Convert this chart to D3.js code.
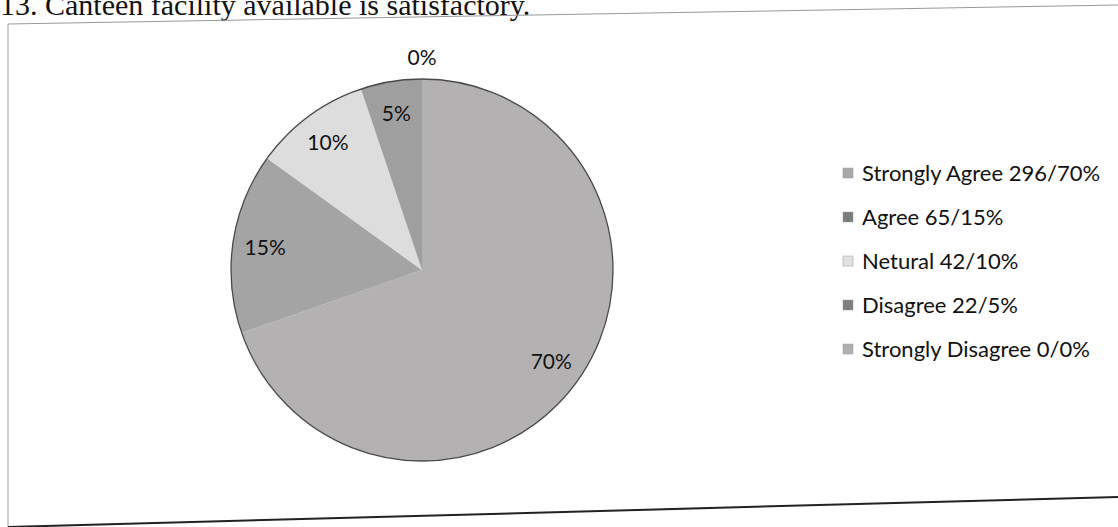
<!DOCTYPE html>
<html>
<head>
<meta charset="utf-8">
<script src="https://cdn.jsdelivr.net/npm/d3@7"></script>
<style>
  body { margin: 0; background: #fff; }
  svg { display: block; }
</style>
</head>
<body>
<div id="chart"></div>
<script>
let width = 1118, height = 527;

let categories = ['Strongly Agree', 'Agree', 'Netural', 'Disagree', 'Strongly Disagree'];
let counts = [296, 65, 42, 22, 0];
let percents = [70, 15, 10, 5, 0];
let sliceColors = ['#b3b1b1', '#a5a4a4', '#dedddd', '#a09f9f', '#b8b8b8'];
let legendColors = ['#a9a9a9', '#7c7c7c', '#e2e2e2', '#808080', '#b0b0b0'];

let cx = 422, cy = 270, r = 191;

let rows = categories.map(function(c, i) {
  return { name: c, count: counts[i], pct: percents[i], fill: sliceColors[i], key: legendColors[i] };
});

let svg = d3.select('#chart').append('svg')
  .attr('width', width).attr('height', height);

// title, partly cut off at the top of the scan
svg.append('text')
  .attr('x', 0).attr('y', 15)
  .style('font-family', '"Liberation Serif", "Times New Roman", serif')
  .style('font-size', '30px')
  .style('fill', '#111')
  .text('13. Canteen facility available is satisfactory.');

// chart frame (the page was photographed at a slight tilt)
svg.append('path')
  .attr('d', 'M8,24 L1118,5')
  .style('stroke', '#999').style('stroke-width', 1).style('fill', 'none');
svg.append('path')
  .attr('d', 'M8,24 L8,527')
  .style('stroke', '#999').style('stroke-width', 1).style('fill', 'none');
svg.append('path')
  .attr('d', 'M8,527 L1118,497')
  .style('stroke', '#222').style('stroke-width', 2).style('fill', 'none');

let pie = d3.pie()
  .value(function(d) { return d.count; })
  .sort(null);

let arc = d3.arc().innerRadius(0).outerRadius(r);
let labelArc = d3.arc().innerRadius(r * 0.83).outerRadius(r * 0.83);
let outerArc = d3.arc().innerRadius(r * 1.11).outerRadius(r * 1.11);

let g = svg.append('g').attr('transform', 'translate(' + cx + ',' + cy + ')');
let arcs = pie(rows);

g.selectAll('path.slice')
  .data(arcs)
  .enter().append('path')
  .attr('class', 'slice')
  .attr('d', arc)
  .style('fill', function(d) { return d.data.fill; })
  .style('stroke', 'none');

g.append('circle')
  .attr('r', r)
  .style('fill', 'none')
  .style('stroke', '#4a4a4a')
  .style('stroke-width', 1.3);

g.selectAll('text.lbl')
  .data(arcs)
  .enter().append('text')
  .attr('class', 'lbl')
  .attr('transform', function(d) {
    let p = d.data.count === 0 ? outerArc.centroid(d) : labelArc.centroid(d);
    return 'translate(' + p + ')';
  })
  .attr('text-anchor', 'middle')
  .attr('dy', '0.35em')
  .style('font-family', 'Lato, "Open Sans", sans-serif')
  .style('font-size', '21px')
  .style('fill', '#111')
  .text(function(d) { return d.data.pct + '%'; });

// legend
let legend = svg.append('g').attr('transform', 'translate(843,173)');
let item = legend.selectAll('g')
  .data(rows)
  .enter().append('g')
  .attr('transform', function(d, i) { return 'translate(0,' + (i * 44) + ')'; });

item.append('rect')
  .attr('x', 0).attr('y', -5)
  .attr('width', 10).attr('height', 10)
  .style('fill', function(d) { return d.key; })
  .style('stroke', '#999').style('stroke-width', 0.5);

item.append('text')
  .attr('x', 19).attr('dy', '0.35em')
  .style('font-family', 'Lato, "Open Sans", sans-serif')
  .style('font-size', '22px')
  .style('fill', '#111')
  .text(function(d) { return d.name + ' ' + d.count + '/' + d.pct + '%'; });
</script>
</body>
</html>
